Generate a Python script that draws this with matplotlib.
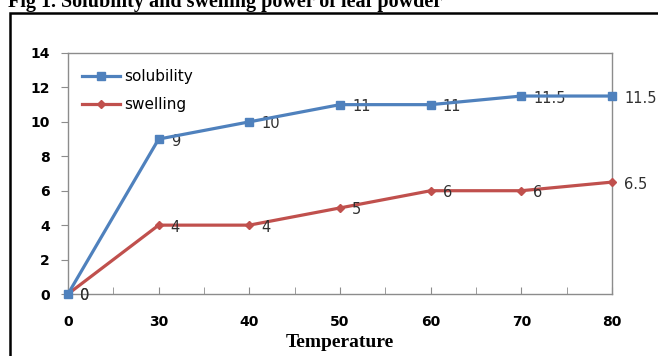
import numpy as np
import matplotlib
matplotlib.use("Agg")
import matplotlib.pyplot as plt
from matplotlib.patches import Rectangle

temps = ['0', '30', '40', '50', '60', '70', '80']
solubility = [0, 9, 10, 11, 11, 11.5, 11.5]
swelling = [0, 4, 4, 5, 6, 6, 6.5]

W, H = 658, 356
fig = plt.figure(figsize=(W/100, H/100), dpi=100)
fig.patch.set_facecolor('white')

# outer frame (runs off the right/bottom edge like the scan)
fig.patches.append(Rectangle((10/W, -0.05), 1.0, (H-13)/H + 0.05, transform=fig.transFigure,
                             fill=False, edgecolor='black', linewidth=1.8, clip_on=False))

# title is cut off at the top edge in the original scan
fig.text(8/W, 1 - 7/H, 'Fig 1. Solubility and swelling power of leaf powder',
         family='Liberation Serif', weight='bold', fontsize=14.5, va='baseline', ha='left')

ax = fig.add_axes([68/W, (H-294)/H, (612-68)/W, (294-53)/H])
x = np.arange(len(temps))

ax.plot(x, solubility, color='#4F81BD', linewidth=2.3, marker='s', markersize=6,
        label='solubility', clip_on=False, zorder=4)
ax.plot(x, swelling, color='#C0504D', linewidth=2.3, marker='D', markersize=4,
        label='swelling', clip_on=False, zorder=3)

for xi, v in zip(x, solubility):
    ax.annotate('%g' % v, (xi, v), xytext=(12, -2), textcoords='offset pixels',
                ha='left', va='center', fontsize=10.5, family='DejaVu Sans', color='#303030')
for xi, v in zip(x, swelling):
    ax.annotate('%g' % v, (xi, v), xytext=(12, -2), textcoords='offset pixels',
                ha='left', va='center', fontsize=10.5, family='DejaVu Sans', color='#303030')

ax.set_xlim(0, 6)
ax.set_ylim(0, 14)
ax.set_xticks(x)
ax.set_xticklabels(temps, family='DejaVu Sans', weight='bold', fontsize=10)
ax.set_xticks(np.arange(0.5, 6, 1), minor=True)
ax.set_yticks(np.arange(0, 15, 2))
ax.set_yticklabels([str(v) for v in range(0, 15, 2)], family='DejaVu Sans', weight='bold', fontsize=10)

for s in ax.spines.values():
    s.set_color('#8C8C8C')
    s.set_linewidth(1.0)
ax.tick_params(axis='x', which='both', direction='in', length=5, color='#8C8C8C', pad=15)
ax.tick_params(axis='y', direction='out', length=5, color='#8C8C8C', pad=8)

ax.set_xlabel('Temperature', family='Liberation Serif', weight='bold', fontsize=14, labelpad=4)

ax.legend(loc='upper left', bbox_to_anchor=(0.0, 0.99), frameon=False,
          prop={'family': 'DejaVu Sans', 'size': 11}, handlelength=2.5, labelspacing=0.85,
          handletextpad=0.25)

fig.savefig('out.png', dpi=100)
